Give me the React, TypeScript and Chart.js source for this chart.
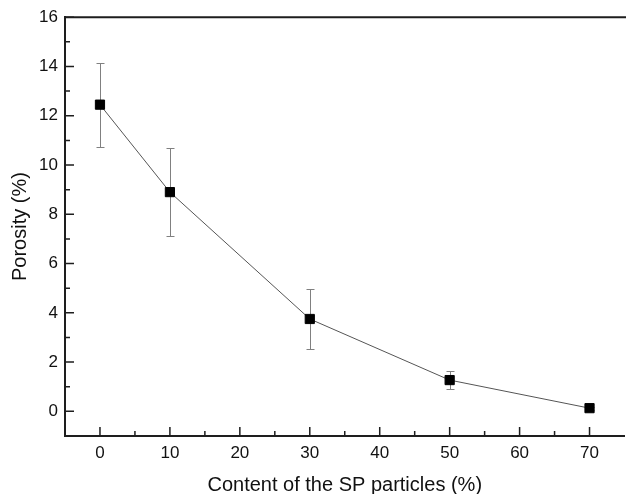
import { useEffect, useRef } from 'react';
import { Chart, registerables } from 'chart.js';
Chart.register(...registerables);

const contents = [0, 10, 30, 50, 70];
const porosity = [12.45, 8.9, 3.75, 1.27, 0.13];
const porosityErr = [1.7, 1.8, 1.2, 0.38, 0.06];
const xTicks = [0, 10, 20, 30, 40, 50, 60, 70];
const xMinorTicks = [5, 15, 25, 35, 45, 55, 65];
const yTicks = [0, 2, 4, 6, 8, 10, 12, 14, 16];
const yMinorTicks = [1, 3, 5, 7, 9, 11, 13, 15];

const FONT = "'Liberation Sans', Arial, sans-serif";
const AXIS = '#1e1e1e';

const errorBarsPlugin = {
  id: 'errorBars',
  beforeDatasetsDraw(chart: any) {
    const { ctx, scales } = chart;
    const xs = scales.x;
    const ys = scales.y;
    ctx.save();
    ctx.strokeStyle = '#808080';
    ctx.lineWidth = 1;
    contents.forEach((c, i) => {
      const x = Math.round(xs.getPixelForValue(c)) + 0.5;
      const yT = Math.round(ys.getPixelForValue(porosity[i] + porosityErr[i])) + 0.5;
      const yB = Math.round(ys.getPixelForValue(porosity[i] - porosityErr[i])) + 0.5;
      ctx.beginPath();
      ctx.moveTo(x, yT);
      ctx.lineTo(x, yB);
      ctx.moveTo(x - 4, yT);
      ctx.lineTo(x + 4, yT);
      ctx.moveTo(x - 4, yB);
      ctx.lineTo(x + 4, yB);
      ctx.stroke();
    });
    ctx.restore();
  },
};

const axisDecorPlugin = {
  id: 'axisDecor',
  afterDraw(chart: any) {
    const { ctx, scales, chartArea } = chart;
    const xs = scales.x;
    const ys = scales.y;
    ctx.save();
    ctx.strokeStyle = AXIS;
    ctx.lineWidth = 2;
    // top frame line
    ctx.beginPath();
    ctx.moveTo(chartArea.left, chartArea.top);
    ctx.lineTo(chartArea.right + 2, chartArea.top);
    ctx.stroke();
    ctx.lineWidth = 1.5;
    ctx.beginPath();
    yTicks.forEach((v) => {
      const y = ys.getPixelForValue(v);
      ctx.moveTo(chartArea.left, y);
      ctx.lineTo(chartArea.left + 9, y);
    });
    yMinorTicks.forEach((v) => {
      const y = ys.getPixelForValue(v);
      ctx.moveTo(chartArea.left, y);
      ctx.lineTo(chartArea.left + 5, y);
    });
    xTicks.forEach((v) => {
      const x = xs.getPixelForValue(v);
      ctx.moveTo(x, chartArea.bottom);
      ctx.lineTo(x, chartArea.bottom - 9);
    });
    xMinorTicks.forEach((v) => {
      const x = xs.getPixelForValue(v);
      ctx.moveTo(x, chartArea.bottom);
      ctx.lineTo(x, chartArea.bottom - 5);
    });
    ctx.stroke();
    ctx.restore();
  },
};

export default function App() {
  const ref = useRef<HTMLCanvasElement | null>(null);
  useEffect(() => {
    if (!ref.current) return;
    const chart = new Chart(ref.current, {
      type: 'line',
      data: {
        datasets: [
          {
            data: contents.map((c, i) => ({ x: c, y: porosity[i] })),
            borderColor: '#555',
            borderWidth: 1,
            pointStyle: 'rect',
            pointRadius: 6.5,
            pointBackgroundColor: '#000',
            pointBorderColor: '#000',
            pointBorderWidth: 1,
            tension: 0,
            fill: false,
          },
        ],
      },
      options: {
        animation: false,
        responsive: false,
        events: [],
        layout: { padding: { left: 0, top: 17, right: 3, bottom: 0 } },
        plugins: { legend: { display: false }, tooltip: { enabled: false } },
        scales: {
          x: {
            type: 'linear',
            min: -5,
            max: 75,
            grid: { display: false, drawTicks: false },
            border: { display: true, color: AXIS, width: 2 },
            afterBuildTicks: (s: any) => {
              s.ticks = xTicks.map((v) => ({ value: v }));
            },
            afterFit: (s: any) => {
              s.height = 58;
            },
            ticks: {
              color: '#111',
              padding: 7,
              maxRotation: 0,
              font: { family: FONT, size: 17 },
            },
            title: {
              display: true,
              text: 'Content of the SP particles (%)',
              color: '#111',
              font: { family: FONT, size: 20, lineHeight: 1.2 },
              padding: { top: 0, bottom: -3 },
            },
          },
          y: {
            type: 'linear',
            min: -1,
            max: 16,
            grid: { display: false, drawTicks: false },
            border: { display: true, color: AXIS, width: 2 },
            afterBuildTicks: (s: any) => {
              s.ticks = yTicks.map((v) => ({ value: v }));
            },
            afterFit: (s: any) => {
              s.width = 65;
            },
            ticks: {
              color: '#111',
              padding: 7,
              font: { family: FONT, size: 17 },
            },
            title: {
              display: true,
              text: 'Porosity (%)',
              color: '#111',
              font: { family: FONT, size: 20, lineHeight: 1.2 },
              padding: { top: 8, bottom: 0 },
            },
          },
        },
      },
      plugins: [errorBarsPlugin, axisDecorPlugin],
    } as any);
    return () => chart.destroy();
  }, []);
  return (
    <div
      style={{
        position: 'fixed',
        left: 0,
        top: 0,
        width: 626,
        height: 494,
        overflow: 'hidden',
        background: '#fff',
      }}
    >
      <canvas ref={ref} width={632} height={494} style={{ width: 632, height: 494, display: 'block' }} />
    </div>
  );
}
